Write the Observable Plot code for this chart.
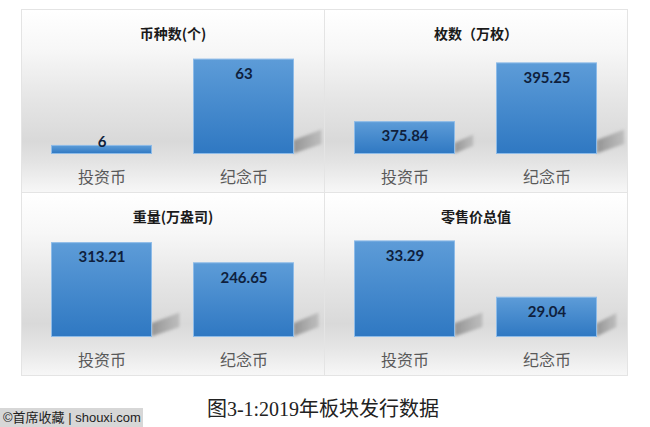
<!DOCTYPE html>
<html>
<head>
<meta charset="utf-8">
<script src="https://cdn.jsdelivr.net/npm/d3@7"></script>
<script src="https://cdn.jsdelivr.net/npm/@observablehq/plot@0.6"></script>
<style>
  body { margin: 0; background: #fff; width: 650px; height: 427px; position: relative; overflow: hidden; }
  .panel {
    position: absolute; box-sizing: border-box; width: 304px; height: 184px;
    border: 1px solid #e4e4e4;
    background: linear-gradient(to bottom, #ffffff 0%, #f7f7f7 22%, #e6e6e6 48%, #d9d9d9 72%, #e4e4e4 84%, #f7f7f7 100%);
  }
  .panel svg { position: absolute; left: 0; top: 0; }
  #caption {
    position: absolute; left: 0; width: 646px; top: 393px; text-align: center;
    font: 20px "Liberation Serif", "DejaVu Serif", "Noto Sans CJK SC", serif; color: #222;
  }
  #mark {
    position: absolute; left: 0; top: 408px; width: 143px; height: 19px; background: #d7d7d7;
    font: 13px "Liberation Sans", "Noto Sans CJK SC", sans-serif; color: #1e1e1e;
    line-height: 19px; padding-left: 3px; box-sizing: border-box; white-space: nowrap;
  }
</style>
</head>
<body>
<div id="charts"></div>
<div id="caption">图3-1:2019年板块发行数据</div>
<div id="mark">©首席收藏 | shouxi.com</div>
<script>
// 2019 issuance by segment: investment coins vs commemorative coins
const categories = ["投资币", "纪念币"];
const panelTitles = ["币种数(个)", "枚数（万枚）", "重量(万盎司)", "零售价总值"];
const coinKinds = [6, 63];             // 币种数
const coinCounts = [375.84, 395.25];   // 万枚
const coinWeights = [313.21, 246.65];  // 万盎司
const retailValues = [33.29, 29.04];   // 零售价总值

const series = [coinKinds, coinCounts, coinWeights, retailValues];
// value axis extent of each panel
const yDomains = [[0, 70], [365, 400], [0, 350], [26, 34]];
const panelBoxes = [[21, 9], [324, 9], [21, 192], [324, 192]];

const W = 302, H = 182, MT = 38, MB = 38;

function decorate(svg, id) {
  const root = d3.select(svg);
  const defs = root.insert("defs", ":first-child");
  const g = defs.append("linearGradient").attr("id", `bar-grad-${id}`)
    .attr("x1", 0).attr("y1", 0).attr("x2", 0).attr("y2", 1);
  g.append("stop").attr("offset", "0%").attr("stop-color", "#5d9cd8");
  g.append("stop").attr("offset", "100%").attr("stop-color", "#2f78c2");
  const s = defs.append("linearGradient").attr("id", `shadow-grad-${id}`)
    .attr("x1", 0).attr("y1", 0).attr("x2", 1).attr("y2", 0);
  s.append("stop").attr("offset", "0%").attr("stop-color", "#7a7a7a").attr("stop-opacity", 0.75);
  s.append("stop").attr("offset", "100%").attr("stop-color", "#9a9a9a").attr("stop-opacity", 0.45);
  const f = defs.append("filter").attr("id", `shadow-blur-${id}`)
    .attr("x", "-30%").attr("y", "-30%").attr("width", "160%").attr("height", "160%");
  f.append("feGaussianBlur").attr("stdDeviation", 1.6);

  // floor shadow cast to the lower right of each bar
  const barGroup = root.select('g[aria-label="bar"]');
  const layer = root.insert("g", 'g[aria-label="bar"]')
    .attr("filter", `url(#shadow-blur-${id})`)
    .attr("transform", barGroup.attr("transform"));
  barGroup.selectAll("rect").each(function () {
    const x = +this.getAttribute("x"), y = +this.getAttribute("y");
    const w = +this.getAttribute("width"), h = +this.getAttribute("height");
    if (h < 15) return;
    const r = x + w, b = y + h;
    const sh = Math.min(24, h * 0.6), sw = Math.min(28, 14 + h * 0.15);
    layer.append("polygon")
      .attr("points", [[r, b], [r, b - sh * 0.55], [r + sw, b - sh], [r + sw, b - sh * 0.4]].map(p => p.join(",")).join(" "))
      .attr("fill", `url(#shadow-grad-${id})`);
  });
}

series.forEach((values, i) => {
  const [lo, hi] = yDomains[i];
  const data = categories.map((c, j) => ({cat: c, v: values[j]}));
  const tall = d => (d.v - lo) / (hi - lo) * (H - MT - MB) > 20;

  const chart = Plot.plot({
    width: W, height: H,
    marginTop: MT, marginBottom: MB, marginLeft: 29, marginRight: 30,
    style: {background: "transparent", color: "#595959", fontFamily: "'Noto Sans CJK SC', sans-serif", fontSize: "16px", overflow: "visible"},
    x: {domain: categories, paddingInner: 0.289, paddingOuter: 0, tickSize: 0, tickPadding: 17, label: null},
    y: {domain: [lo, hi], axis: null},
    marks: [
      Plot.barY(data, {x: "cat", y1: lo, y2: "v", fill: `url(#bar-grad-${i})`, stroke: "#8dbbe8", strokeWidth: 1, inset: 0.5}),
      Plot.text(data.filter(tall), {x: "cat", y: "v", dy: 15, text: d => String(d.v),
        fill: "#0f1f3d", fontSize: 15, fontWeight: "bold", fontFamily: "Lato, 'Open Sans', sans-serif"}),
      Plot.text(data.filter(d => !tall(d)), {x: "cat", y: "v", dy: -3, text: d => String(d.v),
        fill: "#0f1f3d", fontSize: 15, fontWeight: "bold", fontFamily: "Lato, 'Open Sans', sans-serif"}),
      Plot.text([panelTitles[i]], {frameAnchor: "top", dy: -19, text: d => d,
        fill: "#1a1a1a", fontSize: 14, fontWeight: "bold", fontFamily: "'Noto Sans CJK SC', sans-serif"})
    ]
  });
  decorate(chart, i);

  const panel = document.createElement("div");
  panel.className = "panel";
  panel.style.left = panelBoxes[i][0] + "px";
  panel.style.top = panelBoxes[i][1] + "px";
  panel.appendChild(chart);
  document.getElementById("charts").appendChild(panel);
});
</script>
</body>
</html>
